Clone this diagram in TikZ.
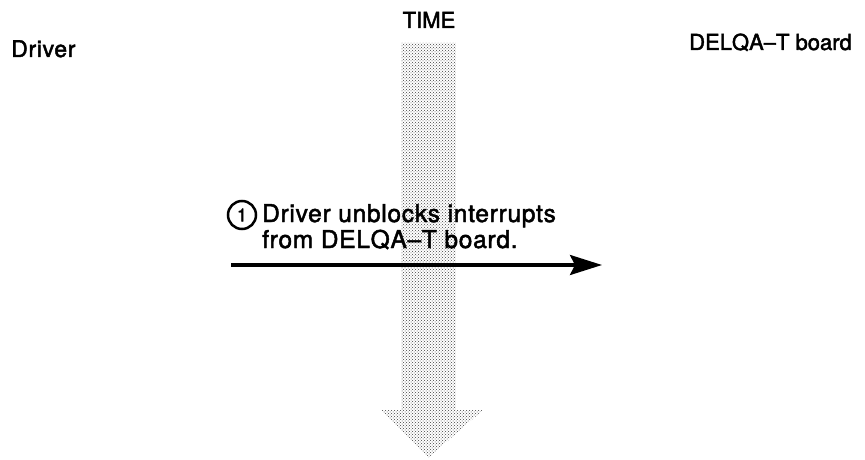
\documentclass[tikz,border=0pt]{standalone}
\usepackage{fontspec}
\setmainfont{TeX Gyre Heros}[UprightFeatures={FakeBold=2}]
\newfontfamily\wideheros{TeX Gyre Heros}[UprightFeatures={FakeBold=2},LetterSpace=3]
\usetikzlibrary{arrows.meta,patterns}
\begin{document}
\begin{tikzpicture}[x=1pt,y=-1pt,
  lbl/.style={inner sep=0pt,font=\fontsize{22}{26}\selectfont},
  msg/.style={inner sep=0pt,align=left,font=\wideheros\fontsize{24.5}{26}\selectfont},
  shade/.style={pattern=crosshatch dots,pattern color=black!75,draw=none},
  flow/.style={line width=3.2pt,-{Stealth[length=32pt,width=20pt,inset=5pt]}},
  num/.style={circle,draw,line width=2.5pt,minimum size=28pt,inner sep=0pt,font=\fontsize{18}{18}\selectfont}]
\useasboundingbox (0,0) rectangle (865,460);
% time arrow
\draw[shade] (401,43) -- (456,43) -- (456,410) -- (483,410) -- (428,458) -- (380,410) -- (401,410) -- cycle;
\node[lbl,anchor=base] (time) at (429,28) {TIME};
\node[lbl,anchor=base west,font=\wideheros\fontsize{23}{26}\selectfont] (driver) at (11,57) {Driver};
\node[lbl,anchor=base east] (board) at (852,50) {DELQA–T board};
\node[num] (c1) at (242,215) {1};
\node[msg,anchor=base west] (msg) at (262,248) {Driver unblocks interrupts\\from DELQA–T board.};
\coordinate (s) at (231,265);
\coordinate (e) at (602,265);
\draw[flow] (s) -- (e);
\end{tikzpicture}
\end{document}
